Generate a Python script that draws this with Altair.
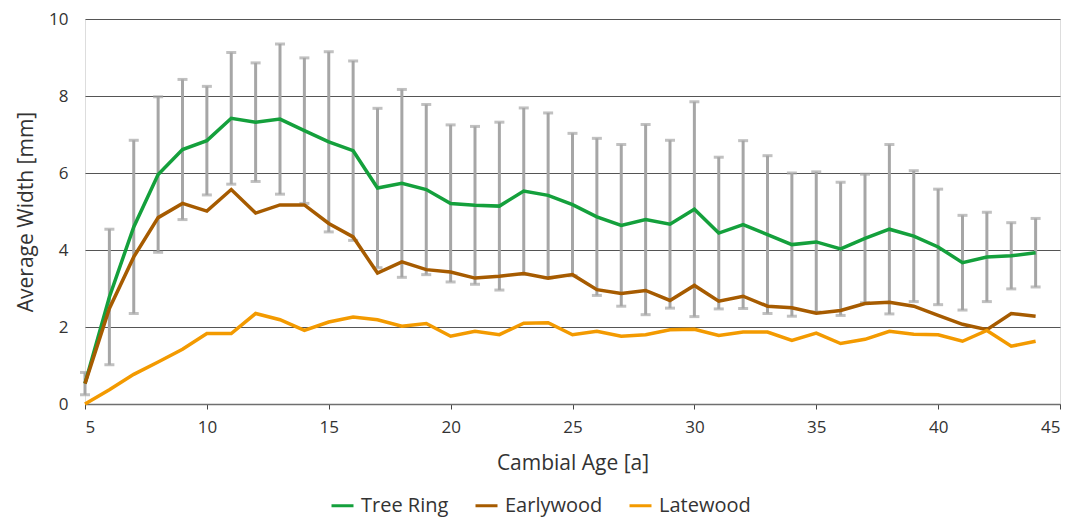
import altair as alt
import pandas as pd

ages = list(range(5, 45))
tree_ring = [0.53, 2.78, 4.60, 5.96, 6.61, 6.84, 7.42, 7.32, 7.40, 7.10, 6.81, 6.58,
             5.61, 5.73, 5.57, 5.21, 5.16, 5.14, 5.53, 5.42, 5.18, 4.86, 4.64, 4.79, 4.67, 5.06,
             4.44, 4.66, 4.40, 4.14, 4.21, 4.03, 4.30, 4.54, 4.36, 4.08, 3.67, 3.82, 3.85, 3.93]
earlywood = [0.53, 2.48, 3.82, 4.84, 5.21, 5.01, 5.57, 4.96, 5.17, 5.17, 4.69, 4.34,
             3.40, 3.69, 3.49, 3.43, 3.27, 3.32, 3.39, 3.27, 3.36, 2.97, 2.87, 2.95, 2.69, 3.08,
             2.67, 2.80, 2.54, 2.50, 2.36, 2.43, 2.61, 2.64, 2.54, 2.30, 2.07, 1.93, 2.35, 2.28]
latewood = [0.0, 0.37, 0.77, 1.09, 1.42, 1.83, 1.83, 2.35, 2.19, 1.91, 2.13, 2.26,
            2.19, 2.02, 2.09, 1.76, 1.89, 1.80, 2.10, 2.11, 1.80, 1.89, 1.76, 1.80, 1.93, 1.94,
            1.78, 1.87, 1.87, 1.65, 1.84, 1.57, 1.68, 1.89, 1.81, 1.80, 1.63, 1.91, 1.50, 1.63]
tree_sd = [0.29, 1.76, 2.25, 2.02, 1.82, 1.41, 1.71, 1.54, 1.95, 1.89, 2.34, 2.33,
           2.07, 2.44, 2.21, 2.04, 2.05, 2.18, 2.16, 2.14, 1.85, 2.04, 2.10, 2.47, 2.18, 2.79,
           1.97, 2.18, 2.05, 1.86, 1.82, 1.73, 1.67, 2.20, 1.70, 1.50, 1.23, 1.16, 0.86, 0.89]

series_names = ["Tree Ring", "Earlywood", "Latewood"]
series_colors = ["#14a03c", "#a65b00", "#f39a00"]

rows = []
for name, vals in zip(series_names, [tree_ring, earlywood, latewood]):
    for a, v in zip(ages, vals):
        rows.append({"age": a, "value": v, "series": name})
lines_df = pd.DataFrame(rows)

err_df = pd.DataFrame({"age": ages, "mean": tree_ring, "sd": tree_sd})
err_df["lo"] = err_df["mean"] - err_df["sd"]
err_df["hi"] = err_df["mean"] + err_df["sd"]

FONT = "Open Sans"
xscale = alt.Scale(domain=[5, 45], nice=False, zero=False)
yscale = alt.Scale(domain=[0, 10], nice=False)

x_axis = alt.Axis(values=list(range(5, 46, 5)), title="Cambial Age [a]", grid=False,
                  domainColor="#6f6f6f", domainWidth=1.5, tickColor="#444444", tickSize=5,
                  labelFontSize=17, labelColor="#333333", labelPadding=10, labelFont=FONT,
                  titleFontSize=21, titleFont=FONT, titleColor="#333333", titleFontWeight="normal",
                  titlePadding=17)
y_axis = alt.Axis(values=[0, 2, 4, 6, 8, 10], title="Average Width [mm]", grid=True,
                  gridColor="#555555", gridWidth=1, domain=False, ticks=False,
                  labelFontSize=17, labelColor="#333333", labelPadding=17, labelFont=FONT,
                  titleFontSize=21, titleFont=FONT, titleColor="#333333", titleFontWeight="normal",
                  titlePadding=12)

base_err = alt.Chart(err_df)
rules = base_err.mark_rule(color="#a6a6a6", strokeWidth=3).encode(
    x=alt.X("age:Q", scale=xscale, axis=x_axis),
    y=alt.Y("lo:Q", scale=yscale, axis=y_axis),
    y2="hi:Q",
)
cap_lo = base_err.mark_tick(color="#a6a6a6", orient="horizontal", size=10, thickness=3).encode(
    x=alt.X("age:Q", scale=xscale), y=alt.Y("lo:Q", scale=yscale))
cap_hi = base_err.mark_tick(color="#a6a6a6", orient="horizontal", size=10, thickness=3).encode(
    x=alt.X("age:Q", scale=xscale), y=alt.Y("hi:Q", scale=yscale))

lines = alt.Chart(lines_df).mark_line(strokeWidth=3.5).encode(
    x=alt.X("age:Q", scale=xscale),
    y=alt.Y("value:Q", scale=yscale),
    color=alt.Color("series:N", scale=alt.Scale(domain=series_names, range=series_colors),
                    sort=series_names,
                    legend=alt.Legend(title=None, orient="none", direction="horizontal",
                                      legendX=245, legendY=474, symbolType="stroke",
                                      symbolStrokeWidth=3, symbolSize=484, labelFontSize=20,
                                      labelFont=FONT, labelColor="#333333", labelOffset=6,
                                      columnPadding=20)),
    order="age:Q",
)

chart = alt.layer(rules, cap_lo, cap_hi, lines).properties(
    width=975, height=385,
    autosize=alt.AutoSizeParams(type="none"),
    padding={"left": 77, "top": 11, "right": 5, "bottom": 116},
).configure_view(stroke=None).configure(font=FONT)

chart.save("out.html", embed_options={"renderer": "svg", "actions": False})
